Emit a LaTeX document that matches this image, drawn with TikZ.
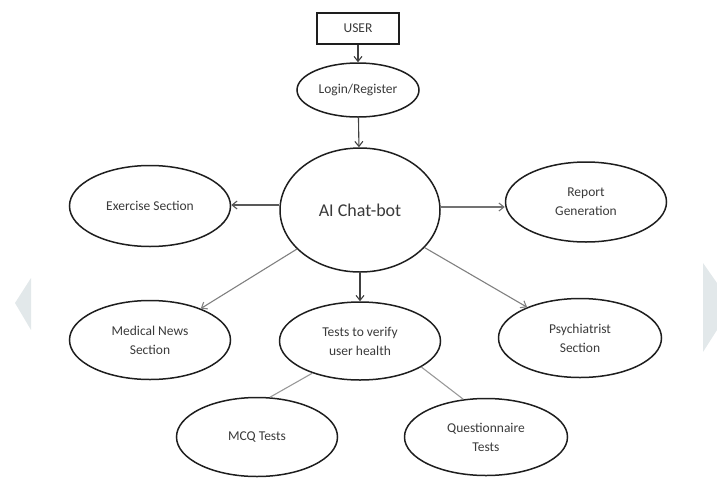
\documentclass[tikz,border=0pt]{standalone}
\usepackage{fontspec}
\setmainfont{Carlito}
\usetikzlibrary{shapes.geometric,arrows.meta}
\definecolor{txt}{HTML}{3A3A3A}
\definecolor{outl}{HTML}{1E1E1E}
\definecolor{deco}{HTML}{E2E8EA}
\begin{document}
\begin{tikzpicture}[x=1pt,y=-1pt,
  ell/.style={ellipse, draw=outl, line width=1.5pt, inner sep=0pt, text=txt,
    font=\fontsize{13.5}{19}\selectfont, align=center},
  boxnode/.style={rectangle, draw=outl, line width=1.5pt, inner sep=0pt, text=txt,
    font=\fontsize{13.5}{15}\selectfont},
  arr/.style={draw=#1, line width=1.1pt, -{Straight Barb[length=5pt,width=8pt]}},
  plain/.style={draw=#1, line width=1.1pt}
]
\useasboundingbox (0,0) rectangle (717,477);
% faint watermark shapes at the edges
\fill[deco] (31,278) -- (15,303) -- (31,330) -- cycle;
\fill[deco] (703,263) -- (717,283) -- (717,330) -- (703,352) -- cycle;

\node[boxnode, minimum width=82pt, minimum height=31pt] (user) at (358,28.5) {USER};
\node[ell, minimum width=122pt, minimum height=54pt] (login) at (358,90) {Login/Register};
\node[ell, minimum width=160pt, minimum height=124pt, font=\fontsize{18}{20}\selectfont] (ai) at (360,210) {AI Chat-bot};
\node[ell, minimum width=161pt, minimum height=81pt] (exercise) at (150,206) {Exercise Section};
\node[ell, minimum width=161pt, minimum height=80pt] (report) at (586,202) {Report\\Generation};
\node[ell, minimum width=161pt, minimum height=79pt] (medical) at (150,340) {Medical News\\Section};
\node[ell, minimum width=161pt, minimum height=78pt] (tests) at (360,341) {Tests to verify\\user health};
\node[ell, minimum width=163pt, minimum height=79pt] (psych) at (580,338) {Psychiatrist\\Section};
\node[ell, minimum width=161pt, minimum height=79pt] (mcq) at (257,437) {MCQ Tests};
\node[ell, minimum width=163pt, minimum height=77pt] (quest) at (486,437) {Questionnaire\\Tests};

\draw[arr=black!75] (user) -- (login);
\draw[arr=black!75] (login) -- (ai);
\draw[arr=black!65] (ai.west |- 0,205) -- (exercise.east |- 0,205);
\draw[arr=black!55] (ai.east |- 0,207) -- (report.west |- 0,207);
\draw[arr=black!50] (ai) -- (medical);
\draw[arr=black!75] (ai) -- (tests);
\draw[arr=black!50] (ai) -- (psych);
\draw[plain=black!40] (tests.214) -- (mcq.72);
\draw[plain=black!40] (tests.337) -- (quest.121);
\end{tikzpicture}
\end{document}
